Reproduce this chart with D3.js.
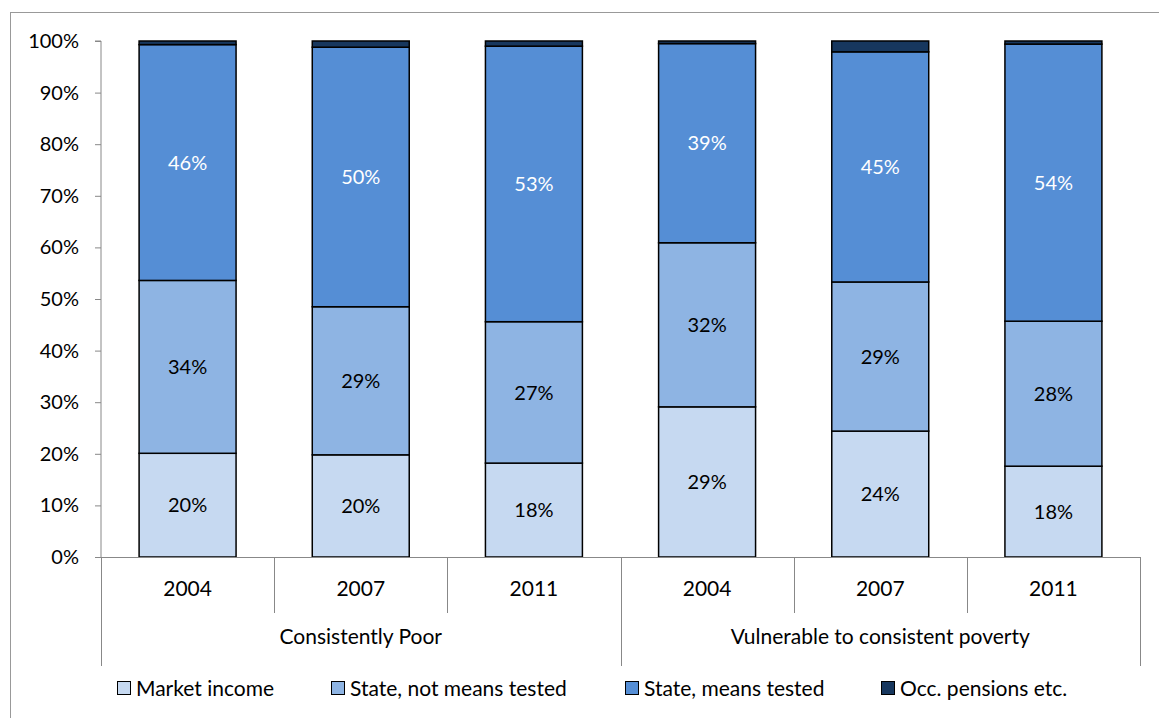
<!DOCTYPE html>
<html><head><meta charset="utf-8">
<script src="https://cdn.jsdelivr.net/npm/d3@7"></script>
<style>body{margin:0;background:#fff;} svg{display:block;font-family:Lato,"Open Sans",sans-serif;}</style>
</head><body><svg id="c" width="1159" height="718"></svg>
<script>
const groups = ["Consistently Poor", "Vulnerable to consistent poverty"];
const years = ["2004", "2007", "2011"];
const seriesNames = ["Market income", "State, not means tested", "State, means tested", "Occ. pensions etc."];
const colors = ["#C6D9F1", "#8EB4E3", "#558ED5", "#17375E"];
const marketIncome = [20.1, 19.8, 18.2, 29.1, 24.4, 17.6];
const stateNotMeans = [33.5, 28.7, 27.4, 31.8, 28.9, 28.1];
const stateMeans = [45.7, 50.3, 53.4, 38.6, 44.6, 53.7];
const occPensions = [0.7, 1.2, 1.0, 0.5, 2.1, 0.6];
const yTicks = [0,10,20,30,40,50,60,70,80,90,100];

const rows = [];
groups.forEach((g,gi)=>years.forEach((yr,yi)=>{
  const i = gi*3+yi;
  rows.push({key:g+"|"+yr, group:g, year:yr,
    "Market income":marketIncome[i], "State, not means tested":stateNotMeans[i],
    "State, means tested":stateMeans[i], "Occ. pensions etc.":occPensions[i]});
}));

const svg = d3.select("#c");
const L = 101, R = 1140, T = 41, B = 557;
const x = d3.scaleBand().domain(rows.map(d=>d.key)).range([L,R]).paddingInner(0.44).paddingOuter(0.22);
const step = (R-L)/rows.length;
const y = d3.scaleLinear().domain([0,100]).range([B,T]);

// frame
svg.append("rect").attr("x",10.5).attr("y",12.5).attr("width",1170).attr("height",720)
  .attr("fill","none").attr("stroke","#999").attr("stroke-width",1);

const stack = d3.stack().keys(seriesNames)(rows);
const layer = svg.append("g").selectAll("g").data(stack).join("g").attr("fill",(d,i)=>colors[i]);
layer.selectAll("rect").data(d=>d).join("rect")
  .attr("x",d=>x(d.data.key)).attr("width",x.bandwidth())
  .attr("y",d=>y(d[1])).attr("height",d=>y(d[0])-y(d[1]))
  .attr("stroke","#000").attr("stroke-width",1.5);

// labels for first three series
stack.slice(0,3).forEach((s,si)=>{
  svg.append("g").selectAll("text").data(s).join("text")
    .attr("x",d=>x(d.data.key)+x.bandwidth()/2)
    .attr("y",d=>(y(d[0])+y(d[1]))/2)
    .attr("dy","0.36em").attr("text-anchor","middle")
    .attr("font-size",20).attr("fill",si===2?"#fff":"#000")
    .text(d=>Math.round(d[1]-d[0])+"%");
});

// y axis
const yAxis = d3.axisLeft(y).tickValues(yTicks).tickSize(6).tickFormat(d=>d+"%");
const ya = svg.append("g").attr("transform",`translate(${L},0)`).call(yAxis);
ya.select(".domain").attr("stroke","#888").attr("d",`M-6,${T}H0V${B}`);
ya.selectAll(".tick line").attr("stroke","#888");
ya.selectAll(".tick text").attr("x",-22).attr("font-size",20).attr("font-family","Lato").attr("fill","#000");

// x axis line
svg.append("line").attr("x1",L).attr("x2",R).attr("y1",B+0.5).attr("y2",B+0.5).attr("stroke","#888");
// category separators
d3.range(rows.length+1).forEach(i=>{
  const xx = Math.round(L+i*step)+0.5;
  const long = (i%3===0);
  svg.append("line").attr("x1",xx).attr("x2",xx).attr("y1",B).attr("y2",long?666:613).attr("stroke","#888");
});
// year labels
svg.append("g").selectAll("text").data(rows).join("text")
  .attr("x",d=>x(d.key)+x.bandwidth()/2).attr("y",588).attr("dy","0.36em")
  .attr("text-anchor","middle").attr("font-size",21).text(d=>d.year);
// group labels
svg.append("g").selectAll("text").data(groups).join("text")
  .attr("x",(d,i)=>L+step*3*i+step*1.5).attr("y",636).attr("dy","0.36em")
  .attr("text-anchor","middle").attr("font-size",21).text(d=>d);

// legend
const legX = [117, 331, 625, 881];
const leg = svg.append("g").selectAll("g").data(seriesNames).join("g")
  .attr("transform",(d,i)=>`translate(${legX[i]},688)`);
leg.append("rect").attr("x",0.5).attr("y",-6.5).attr("width",13).attr("height",13)
  .attr("fill",(d,i)=>colors[i]).attr("stroke","#000");
leg.append("text").attr("x",19).attr("dy","0.36em").attr("font-size",21).text(d=>d);
</script></body></html>
